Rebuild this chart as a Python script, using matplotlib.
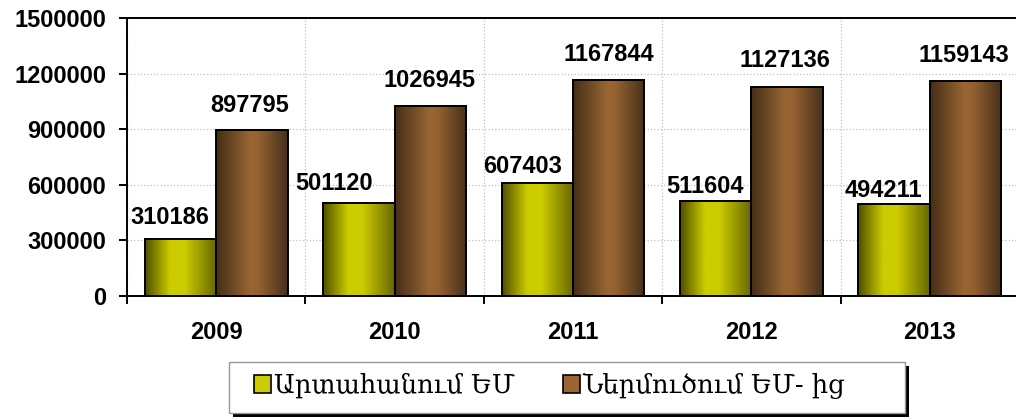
import numpy as np
import matplotlib
matplotlib.use("Agg")
import matplotlib.pyplot as plt
from matplotlib.colors import LinearSegmentedColormap
from matplotlib.patches import Patch, Rectangle
from matplotlib.ticker import FuncFormatter

years = ["2009", "2010", "2011", "2012", "2013"]
exports = [310186, 501120, 607403, 511604, 494211]
imports = [897795, 1026945, 1167844, 1127136, 1159143]
series_names = ["Արտահանում ԵՄ", "Ներմուծում ԵՄ- ից"]

# label nudges in pixels (dx, dy above bar top) as in the original excel chart
exp_dx = [-11, -25, -15, -11, -11]
exp_dy = [15, 13, 10, 8, 7]
imp_dx = [-2, -1, 0, -2, -2]
imp_dy = [18, 19, 19, 20, 19]

yellow = LinearSegmentedColormap.from_list(
    "y", [(0, "#4f4f00"), (0.35, "#cccc00"), (0.55, "#cccc00"), (1, "#666600")])
brown = LinearSegmentedColormap.from_list(
    "b", [(0, "#442e17"), (0.48, "#996633"), (0.6, "#946131"), (1, "#45301a")])

plt.rcParams["font.family"] = "Liberation Sans"
FS = 17

W, H = 1016, 419
fig = plt.figure(figsize=(W / 100, H / 100), dpi=100)
ax = fig.add_axes([127 / W, 1 - 296 / H, 892 / W, 278 / H])

x = np.arange(len(years))
w = 0.4
b1 = ax.bar(x - w / 2, exports, w, color="#cccc00", edgecolor="black", linewidth=1.4, zorder=3)
b2 = ax.bar(x + w / 2, imports, w, color="#996633", edgecolor="black", linewidth=1.4, zorder=3)

grad = np.linspace(0, 1, 256).reshape(1, -1)
for bars, cmap in [(b1, yellow), (b2, brown)]:
    for r in bars:
        x0 = r.get_x()
        ax.imshow(grad, cmap=cmap, extent=(x0, x0 + r.get_width(), 0, r.get_height()),
                  aspect="auto", zorder=2.9, interpolation="bilinear")
        r.set_facecolor("none")

for bars, vals, dxs, dys in [(b1, exports, exp_dx, exp_dy), (b2, imports, imp_dx, imp_dy)]:
    for r, v, dx, dy in zip(bars, vals, dxs, dys):
        ax.annotate(str(v), (r.get_x() + r.get_width() / 2, r.get_height()),
                    xytext=(dx, dy), textcoords="offset pixels",
                    ha="center", va="baseline", fontsize=FS, fontweight="bold", zorder=5)

ax.set_xlim(-0.5, len(years) - 0.5)
ax.set_ylim(0, 1500000)
ax.set_yticks(np.arange(0, 1500001, 300000))
ax.yaxis.set_major_formatter(FuncFormatter(lambda v, p: f"{v:.0f}"))
ax.set_xticks(np.arange(len(years) + 1) - 0.5)
ax.set_xticklabels([])
ax.set_xticks(x, minor=True)
ax.set_xticklabels(years, minor=True)
ax.tick_params(axis="x", which="major", length=6, width=1.4, direction="out")
ax.tick_params(axis="x", which="minor", length=0, pad=18, labelsize=FS)
ax.tick_params(axis="y", length=6, width=1.4, pad=9, labelsize=FS)
for lab in ax.get_xticklabels(minor=True) + ax.get_yticklabels():
    lab.set_fontweight("bold")

ax.grid(True, which="major", color="#c0c0c0", linestyle=":", linewidth=0.9, zorder=0)
ax.set_axisbelow(True)
for s in ax.spines.values():
    s.set_linewidth(1.4)
    s.set_color("black")

# legend frame with the hard black shadow
lx0, lx1, ly0, ly1 = 229, 905, 362, 413
fig.patches.append(Rectangle((lx0 / W + 4 / W, 1 - ly1 / H - 4 / H), (lx1 - lx0) / W, (ly1 - ly0) / H,
                             transform=fig.transFigure, facecolor="black", edgecolor="none", zorder=1))
fig.patches.append(Rectangle((lx0 / W, 1 - ly1 / H), (lx1 - lx0) / W, (ly1 - ly0) / H,
                             transform=fig.transFigure, facecolor="white", edgecolor="#999999",
                             linewidth=1.0, zorder=2))

handles = [Patch(facecolor="#cccc00", edgecolor="black", linewidth=1.2),
           Patch(facecolor="#996633", edgecolor="black", linewidth=1.2)]
leg = fig.legend(handles, series_names, loc="center left", bbox_to_anchor=(254 / W, 1 - 386 / H),
                 ncol=2, frameon=False, borderpad=0, borderaxespad=0,
                 prop={"family": ["DejaVu Serif", "DejaVu Sans"], "size": 18.5},
                 handlelength=0.66, handleheight=0.66, handletextpad=0.1,
                 columnspacing=1.9)
leg.set_zorder(5)

fig.savefig("out.png", dpi=100)
